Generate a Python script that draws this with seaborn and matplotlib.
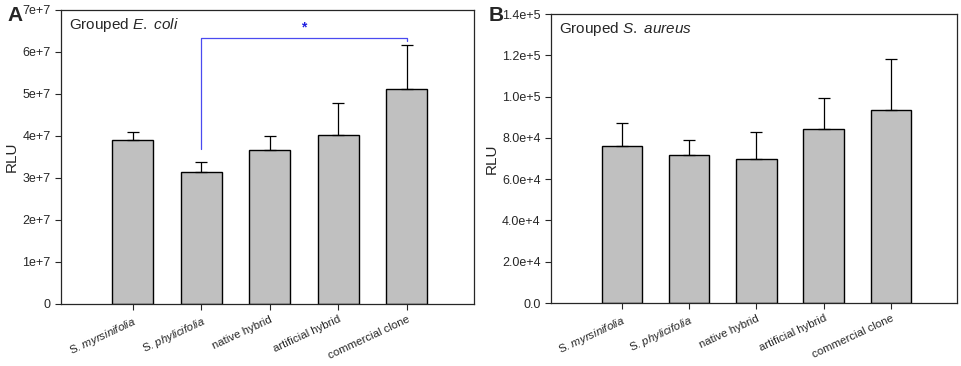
import numpy as np
import matplotlib
matplotlib.use('Agg')
import matplotlib.pyplot as plt
import seaborn as sns
from matplotlib.ticker import FuncFormatter

# groups on the x axis (species part in italics)
groups = [r'S. $\mathit{myrsinifolia}$', r'S. $\mathit{phylicifolia}$',
          'native hybrid', 'artificial hybrid', 'commercial clone']

# panel A - grouped E. coli
ecoli_mean = [3.90e7, 3.14e7, 3.67e7, 4.02e7, 5.11e7]
ecoli_err = [0.20e7, 0.24e7, 0.33e7, 0.77e7, 1.05e7]
ecoli_ticks = [0, 1e7, 2e7, 3e7, 4e7, 5e7, 6e7, 7e7]

# panel B - grouped S. aureus
saureus_mean = [76200, 71600, 69600, 84100, 93300]
saureus_err = [11100, 7400, 13300, 15200, 24700]
saureus_ticks = [0, 2e4, 4e4, 6e4, 8e4, 1.0e5, 1.2e5, 1.4e5]

# significance bracket in panel A (between group 1 and group 4)
sig_pair = (1, 4)
sig_levels = (3.70e7, 6.34e7, 6.26e7)
sig_star_y = 6.58e7

sns.set_style('ticks')
plt.rcParams['font.family'] = ['Liberation Sans', 'DejaVu Sans']
plt.rcParams['mathtext.fontset'] = 'custom'
plt.rcParams['mathtext.rm'] = 'Liberation Sans'
plt.rcParams['mathtext.it'] = 'Liberation Sans:italic'

fig = plt.figure(figsize=(9.62, 3.66), dpi=100)
axA = fig.add_axes([0.0634, 0.1694, 0.4293, 0.8033])
axB = fig.add_axes([0.5728, 0.1721, 0.4220, 0.7896])


def fmt_a(v, pos):
    if v == 0:
        return '0'
    e = int(np.floor(np.log10(v)))
    return f'{v / 10**e:.0f}e+{e}'


def fmt_b(v, pos):
    if v == 0:
        return '0.0'
    e = int(np.floor(np.log10(v) + 1e-9))
    return f'{v / 10**e:.1f}e+{e}'


def draw_panel(ax, means, errs, ticks, fmt, title, label_x):
    sns.barplot(x=groups, y=means, color='#c0c0c0', edgecolor='black',
                linewidth=1.0, width=0.6, saturation=1, ax=ax)
    pos = np.arange(len(means))
    ax.errorbar(pos, means, yerr=[np.zeros(len(errs)), errs], fmt='none',
                ecolor='black', elinewidth=0.9, capsize=4, capthick=0.9)
    ax.set_xlim(-1.05, len(means) - 1 + 0.98)
    ax.set_ylim(0, ticks[-1])
    ax.set_yticks(ticks)
    ax.yaxis.set_major_formatter(FuncFormatter(fmt))
    ax.tick_params(axis='both', direction='out', length=4, width=0.8,
                   labelsize=9)
    ax.tick_params(axis='x', labelsize=8.2)
    plt.setp(ax.get_xticklabels(), rotation=25, ha='right',
             rotation_mode='anchor')
    for s in ax.spines.values():
        s.set_visible(True)
        s.set_linewidth(0.9)
    ax.set_ylabel('RLU', fontsize=11, va='center')
    ax.yaxis.set_label_coords(label_x, 0.5)
    ax.set_xlabel('')
    ax.text(0.02, 0.978, title, transform=ax.transAxes, fontsize=11,
            va='top', ha='left')


draw_panel(axA, ecoli_mean, ecoli_err, ecoli_ticks, fmt_a,
           r'Grouped $\mathit{E.\ coli}$', -0.119)
draw_panel(axB, saureus_mean, saureus_err, saureus_ticks, fmt_b,
           r'Grouped $\mathit{S.\ aureus}$', -0.145)

# significance bracket
i, j = sig_pair
axA.plot([i, i, j, j], [sig_levels[0], sig_levels[1], sig_levels[1], sig_levels[2]],
         color='#4a4af0', linewidth=0.9)
axA.text((i + j) / 2, sig_star_y, '*', color='#2020e0', ha='center',
         va='center', fontsize=10, fontweight='bold')

fig.text(0.008, 0.958, 'A', fontsize=15, fontweight='bold', va='center')
fig.text(0.508, 0.958, 'B', fontsize=15, fontweight='bold', va='center')

fig.savefig('out.png', dpi=100)
